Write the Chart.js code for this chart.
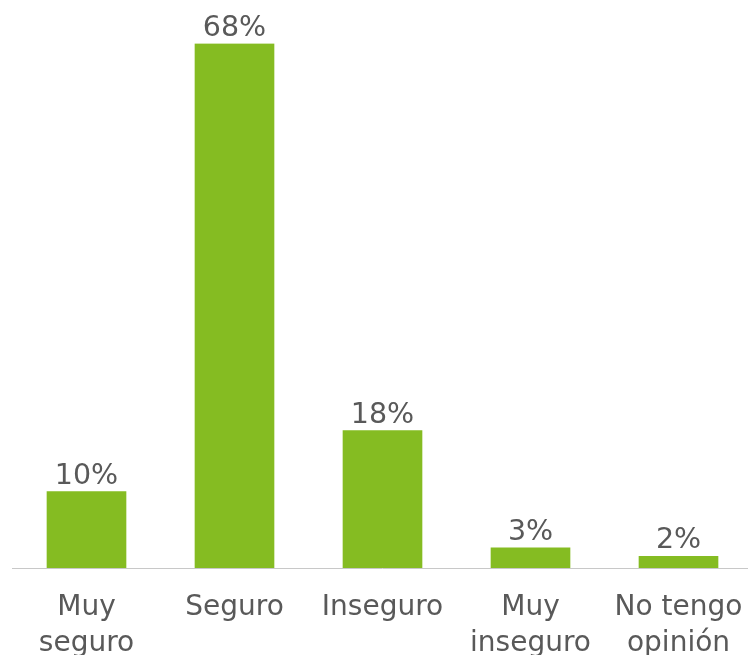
<!DOCTYPE html>
<html>
<head>
<meta charset="utf-8">
<script src="https://cdn.jsdelivr.net/npm/chart.js@4/dist/chart.umd.min.js"></script>
<style>
  html, body { margin: 0; padding: 0; background: #ffffff; overflow: hidden; }
  #wrap { width: 760px; height: 655px; }
</style>
</head>
<body>
<div id="wrap"><canvas id="c" width="760" height="655"></canvas></div>
<script>
const categories = [["Muy", "seguro"], "Seguro", "Inseguro", ["Muy", "inseguro"], ["No tengo", "opinión"]];
const values = [9.9, 68, 17.8, 2.6, 1.5];
const valueLabels = ["10%", "68%", "18%", "3%", "2%"];

const textColor = "#595959";
const fontFamily = "'DejaVu Sans', Verdana, sans-serif";

const barLabelPlugin = {
  id: "barLabels",
  afterDatasetsDraw(chart) {
    const ctx = chart.ctx;
    const meta = chart.getDatasetMeta(0);
    ctx.save();
    ctx.fillStyle = textColor;
    ctx.font = "28.5px " + fontFamily;
    ctx.textAlign = "center";
    ctx.textBaseline = "alphabetic";
    meta.data.forEach((bar, i) => {
      ctx.fillText(valueLabels[i], bar.x, bar.y - 8);
    });
    ctx.restore();
  }
};

new Chart(document.getElementById("c"), {
  type: "bar",
  data: {
    labels: categories,
    datasets: [{
      data: values,
      backgroundColor: "#85BC22",
      borderWidth: 0,
      barThickness: 79
    }]
  },
  options: {
    responsive: false,
    animation: false,
    layout: { padding: { left: 12.5, right: 7.5, top: 43.5, bottom: 0 } },
    plugins: { legend: { display: false }, tooltip: { enabled: false } },
    scales: {
      x: {
        grid: { display: false },
        border: { display: true, color: "#C8C8C8", width: 1 },
        ticks: {
          color: textColor,
          font: { family: fontFamily, size: 28, lineHeight: 1.29 },
          padding: 14,
          maxRotation: 0,
          autoSkip: false
        },
        afterFit(scale) { scale.height = 87; }
      },
      y: {
        display: false,
        min: 0,
        max: 68
      }
    }
  },
  plugins: [barLabelPlugin]
});
</script>
</body>
</html>
